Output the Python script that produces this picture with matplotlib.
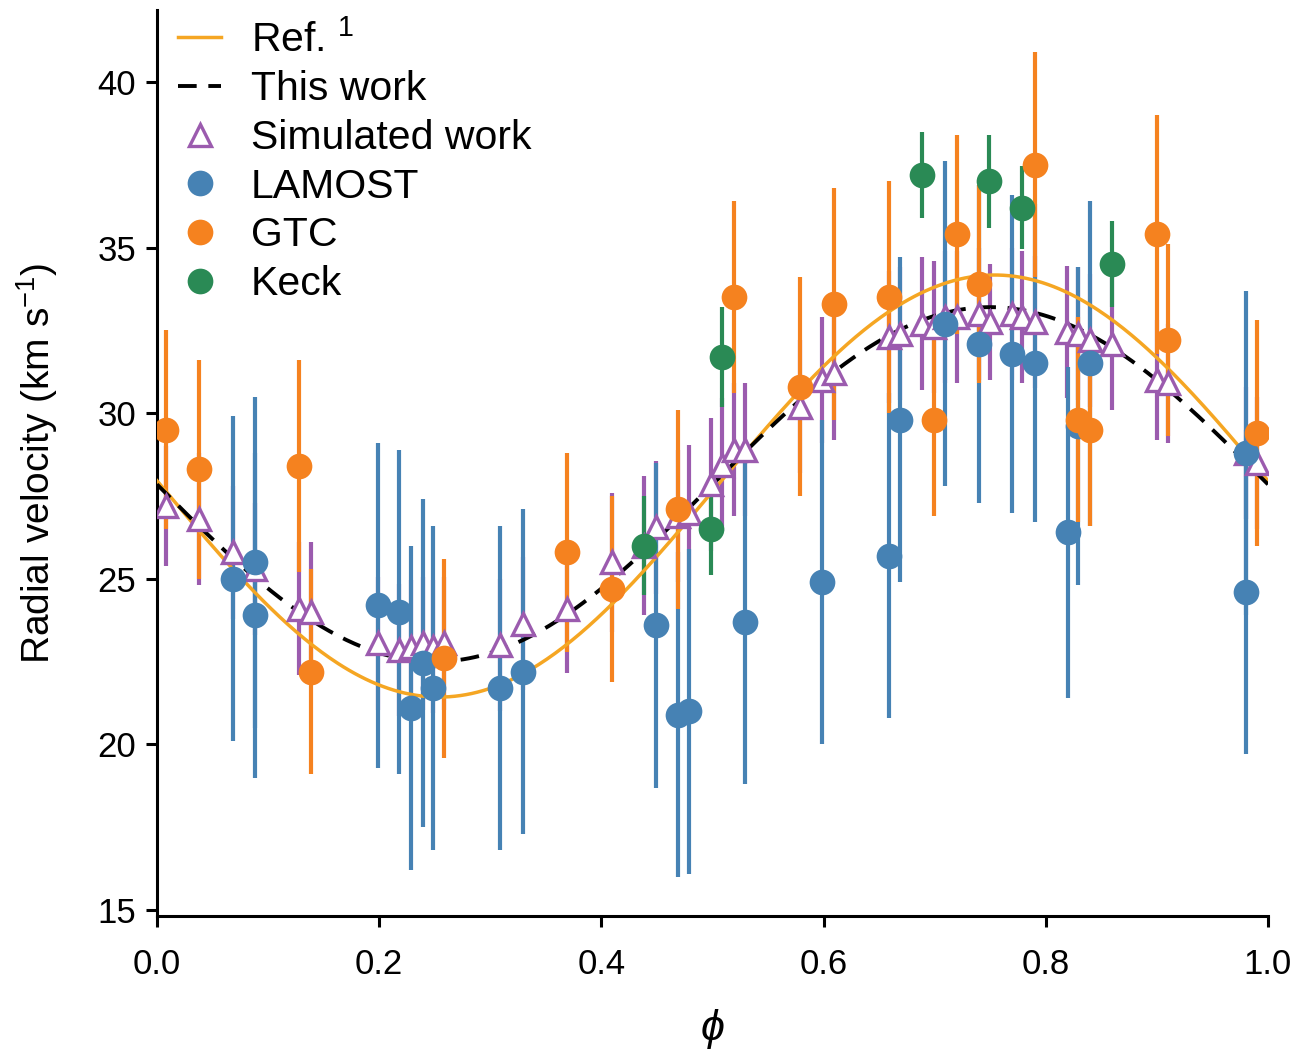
import numpy as np
import matplotlib
matplotlib.use('Agg')
import matplotlib.pyplot as plt

plt.rcParams['font.family'] = ['Liberation Sans', 'DejaVu Sans']
plt.rcParams['mathtext.fontset'] = 'custom'
plt.rcParams['mathtext.rm'] = 'Liberation Sans'
plt.rcParams['mathtext.it'] = 'Liberation Sans:italic'

# LAMOST radial velocities (km/s) against orbital phase
lamost_phase = [0.068, 0.088, 0.088, 0.199, 0.218, 0.229, 0.239, 0.248, 0.309, 0.329,
                0.449, 0.469, 0.479, 0.529, 0.599, 0.659, 0.669, 0.709, 0.740, 0.770,
                0.790, 0.820, 0.829, 0.840, 0.980, 0.980]
lamost_rv = [25.0, 25.5, 23.9, 24.2, 24.0, 21.1, 22.45, 21.7, 21.7, 22.2,
             23.6, 20.9, 21.0, 23.7, 24.9, 25.7, 29.8, 32.7, 32.1, 31.8,
             31.5, 26.4, 29.6, 31.5, 28.8, 24.6]
lamost_err = [4.9, 5.0, 4.9, 4.9, 4.9, 4.9, 4.95, 4.9, 4.9, 4.9,
              4.9, 4.9, 4.9, 4.9, 4.9, 4.9, 4.9, 4.9, 4.8, 4.8,
              4.8, 5.0, 4.8, 4.9, 4.9, 4.9]

# GTC
gtc_phase = [0.008, 0.038, 0.128, 0.139, 0.258, 0.369, 0.410, 0.469, 0.519, 0.579,
             0.609, 0.659, 0.699, 0.720, 0.740, 0.790, 0.829, 0.840, 0.900, 0.910, 0.990]
gtc_rv = [29.5, 28.3, 28.4, 22.2, 22.6, 25.8, 24.7, 27.1, 33.5, 30.8,
          33.3, 33.5, 29.8, 35.4, 33.9, 37.5, 29.8, 29.5, 35.4, 32.2, 29.4]
gtc_err = [3.0, 3.3, 3.2, 3.1, 3.0, 3.0, 2.8, 3.0, 2.9, 3.3,
           3.5, 3.5, 2.9, 3.0, 3.0, 3.4, 3.1, 2.9, 3.6, 2.9, 3.4]

# Keck
keck_phase = [0.438, 0.499, 0.509, 0.689, 0.749, 0.779, 0.860]
keck_rv = [26.0, 26.5, 31.7, 37.2, 37.0, 36.2, 34.5]
keck_err = [1.5, 1.4, 1.5, 1.3, 1.4, 1.25, 1.3]

# simulated velocities at the observed phases
sim_phase = [0.008, 0.038, 0.068, 0.088, 0.128, 0.139, 0.199, 0.218, 0.229, 0.239,
             0.248, 0.258, 0.309, 0.329, 0.369, 0.410, 0.438, 0.449, 0.469, 0.479,
             0.499, 0.509, 0.519, 0.529, 0.579, 0.599, 0.609, 0.659, 0.669, 0.689,
             0.699, 0.709, 0.720, 0.740, 0.750, 0.770, 0.779, 0.790, 0.819, 0.829,
             0.840, 0.860, 0.900, 0.910, 0.980, 0.990]
sim_rv = [27.2, 26.8, 25.8, 25.3, 24.1, 24.0, 23.05, 22.85, 22.95, 23.05,
          22.95, 23.05, 23.0, 23.65, 24.1, 25.5, 26.0, 26.55, 26.9, 27.0,
          27.85, 28.45, 28.9, 28.9, 30.2, 31.0, 31.2, 32.3, 32.4, 32.7,
          32.6, 32.9, 32.9, 33.0, 32.75, 33.0, 32.9, 32.75, 32.45, 32.4,
          32.2, 32.1, 31.0, 30.9, 28.8, 28.5]
sim_err = [1.8, 2.0, 2.0, 2.0, 2.0, 2.1, 2.0, 2.0, 2.0, 2.0,
           2.0, 2.0, 2.0, 2.0, 1.95, 2.1, 2.1, 2.0, 2.0, 2.05,
           2.0, 2.0, 2.0, 2.0, 2.0, 1.9, 2.0, 2.0, 2.0, 2.0,
           2.0, 2.0, 2.0, 2.0, 1.75, 2.0, 2.0, 2.0, 2.0, 2.0,
           2.0, 2.0, 1.8, 1.8, 2.0, 2.0]

# circular-orbit fits: systemic velocity, semi-amplitude, phase offset
ref_gamma, ref_K, ref_phi0 = 27.8, 6.37, 0.004
fit_gamma, fit_K, fit_phi0 = 27.85, 5.35, 0.0

c_lamost = '#4682B4'
c_gtc = '#F5821F'
c_keck = '#2A8A55'
c_sim = '#9B5BAE'
c_ref = '#F5A623'

fig, ax = plt.subplots(figsize=(13.06, 10.51), dpi=100)
fig.subplots_adjust(left=0.1202, right=0.9709, bottom=0.1284, top=0.9905)

phi = np.linspace(0, 1, 400)
ax.plot(phi, ref_gamma - ref_K * np.sin(2 * np.pi * (phi - ref_phi0)),
        color=c_ref, lw=2.5, zorder=3, label='Ref. $^1$')
ax.plot(phi, fit_gamma - fit_K * np.sin(2 * np.pi * (phi - fit_phi0)),
        color='black', lw=2.8, ls=(0, (4.8, 3.0)), zorder=3, label='This work')

# error bars underneath, markers on top
ax.errorbar(sim_phase, sim_rv, yerr=sim_err, fmt='none', ecolor=c_sim, elinewidth=3.0, zorder=1)
ax.errorbar(lamost_phase, lamost_rv, yerr=lamost_err, fmt='none', ecolor=c_lamost, elinewidth=3.0, zorder=1.2)
ax.errorbar(gtc_phase, gtc_rv, yerr=gtc_err, fmt='none', ecolor=c_gtc, elinewidth=3.0, zorder=1.4)
ax.errorbar(keck_phase, keck_rv, yerr=keck_err, fmt='none', ecolor=c_keck, elinewidth=3.0, zorder=1.6)

ax.plot(sim_phase, sim_rv, ls='none', marker='^', ms=16.5, mfc='white', mec=c_sim, mew=2.4,
        zorder=4, label='Simulated work')
ax.plot(lamost_phase, lamost_rv, ls='none', marker='o', ms=18.5, color=c_lamost, mew=0,
        zorder=5, label='LAMOST')
ax.plot(gtc_phase, gtc_rv, ls='none', marker='o', ms=18.5, color=c_gtc, mew=0,
        zorder=5, label='GTC')
ax.plot(keck_phase, keck_rv, ls='none', marker='o', ms=18.5, color=c_keck, mew=0,
        zorder=5, label='Keck')

ax.set_xlim(0, 1)
ax.set_ylim(14.82, 42.17)
ax.set_xticks([0.0, 0.2, 0.4, 0.6, 0.8, 1.0])
ax.set_xticklabels(['0.0', '0.2', '0.4', '0.6', '0.8', '1.0'])
ax.set_yticks([15, 20, 25, 30, 35, 40])

for side in ['top', 'right']:
    ax.spines[side].set_visible(False)
for side in ['left', 'bottom']:
    ax.spines[side].set_linewidth(2.2)
ax.tick_params(axis='both', which='major', labelsize=25, width=2.2, length=8, direction='out')
ax.tick_params(axis='x', pad=15)
ax.tick_params(axis='y', pad=7)

ax.set_xlabel('\u03d5', fontsize=31, fontstyle='italic', labelpad=20)
ax.set_ylabel('Radial velocity (km s$^{-1}$)', fontsize=28, labelpad=27)

ax.legend(loc='upper left', bbox_to_anchor=(0.019, 0.989), frameon=False, fontsize=29.5,
          handlelength=1.05, handletextpad=0.72, labelspacing=0.26,
          borderaxespad=0.0, borderpad=0.0)

plt.savefig('out.png', dpi=100)
